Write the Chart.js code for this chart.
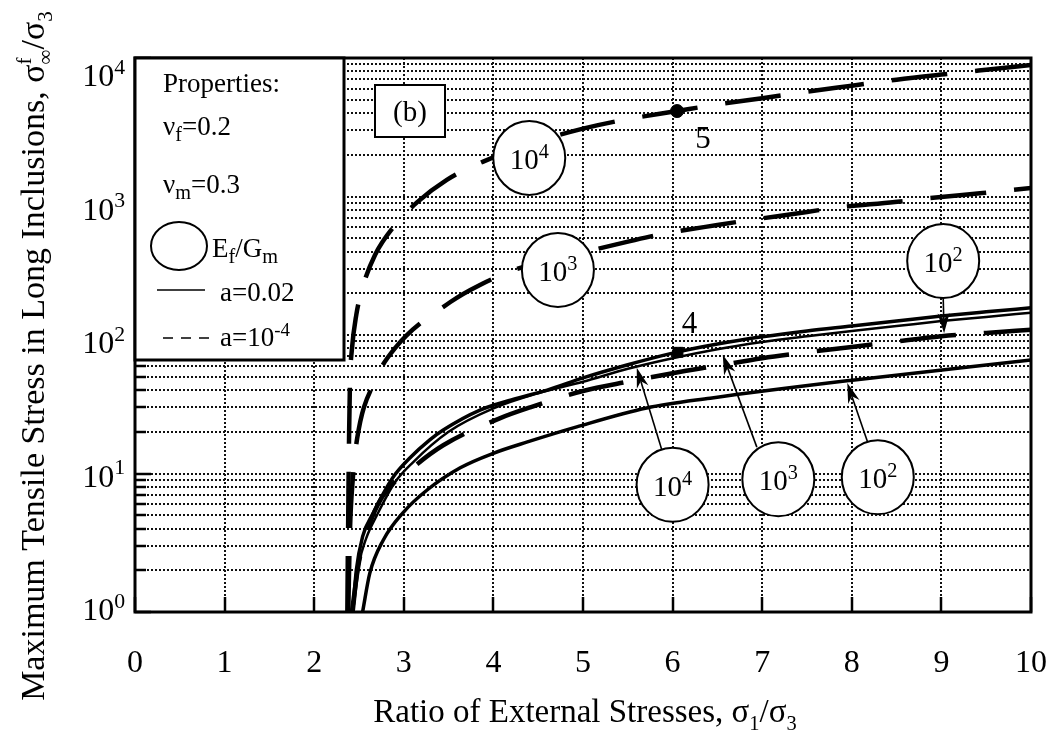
<!DOCTYPE html>
<html>
<head>
<meta charset="utf-8">
<script src="https://cdn.jsdelivr.net/npm/chart.js@4.4.1/dist/chart.umd.min.js"></script>
<style>
  html, body { margin: 0; padding: 0; background: #fff; }
  #wrap { width: 1061px; height: 739px; }
</style>
</head>
<body>
<div id="wrap"><canvas id="c" width="1061" height="739"></canvas></div>
<script>
// ---- axis ticks ----
const ratioTicks = [0, 1, 2, 3, 4, 5, 6, 7, 8, 9, 10];
const stressDecades = [1, 10, 100, 1000, 10000];
const decadeExponents = ['0', '1', '2', '3', '4'];
const stressGrid = [1, 2, 3, 4, 5, 6, 7, 8, 9, 10, 20, 30, 40, 50, 60, 70, 80, 90,
  100, 200, 300, 400, 500, 600, 700, 800, 900, 1000, 2000, 3000, 4000, 5000, 6000,
  7000, 8000, 9000, 10000];

// ---- a = 1e-4 (dashed), Ef/Gm = 1e4 ----
const ratioThin4 = [2.37, 2.375, 2.38, 2.385, 2.39, 2.40, 2.42, 2.47, 2.53, 2.68, 2.9, 3.15,
  3.48, 3.88, 4.5, 5.0, 5.45, 6.05, 6.5, 7.0, 7.5, 8.0, 8.5, 9.0, 9.5, 10];
const stressThin4 = [1, 2.5, 5, 11, 20, 47, 78, 140, 210, 380, 620, 910,
  1320, 1780, 2500, 3090, 3570, 4140, 4620, 5130, 5710, 6310, 6970, 7590, 8220, 8890];

// ---- a = 1e-4 (dashed), Ef/Gm = 1e3 ----
const ratioThin3 = [2.38, 2.40, 2.43, 2.48, 2.68, 2.9, 3.52, 3.85, 4.3, 5.11, 5.49, 5.83,
  6.5, 6.81, 7.5, 7.81, 8.48, 8.82, 9.46, 10];
const stressThin3 = [1, 4, 9, 18, 47, 80, 173, 230, 305, 411, 470, 527,
  623, 668, 773, 828, 912, 966, 1060, 1150];

// ---- a = 1e-4 (dashed), Ef/Gm = 1e2 ----
const ratioThin2 = [2.42, 2.5, 2.6, 2.76, 3.1, 3.44, 4.07, 4.41, 5.0, 5.5, 6.0, 6.5, 7.0,
  7.5, 8.0, 8.5, 9.0, 9.5, 10];
const stressThin2 = [1, 2.3, 4, 6.8, 11, 16, 25, 30, 39.4, 46, 53, 60, 68,
  75, 82, 90, 98, 103.5, 109];

// ---- a = 0.02 (solid), Ef/Gm = 1e4 ----
const ratioThick4 = [2.43, 2.47, 2.54, 2.66, 2.88, 3.07, 3.29, 3.44, 3.85, 4.2, 4.6, 5.0,
  5.5, 6.0, 6.5, 7.0, 7.5, 8.0, 8.5, 9.0, 9.5, 10];
const stressThick4 = [1, 2, 3.5, 5.2, 9.4, 13, 17.5, 20.6, 28.7, 34, 40, 49,
  61, 74, 86, 97, 107, 116, 126, 137, 147, 157];

// ---- a = 0.02 (solid), Ef/Gm = 1e3 ----
const ratioThick3 = [2.44, 2.5, 2.58, 2.7, 2.9, 3.1, 3.5, 4.0, 4.5, 5.0, 5.5, 6.0,
  6.5, 7.0, 7.5, 8.0, 8.5, 9.0, 9.5, 10];
const stressThick3 = [1, 2.2, 3.4, 5.0, 8.6, 12, 20, 29.5, 38, 46, 57, 68,
  79, 89, 98, 107, 116, 126, 135, 145];

// ---- a = 0.02 (solid), Ef/Gm = 1e2 ----
const ratioThick2 = [2.54, 2.62, 2.77, 2.99, 3.26, 3.63, 4.0, 4.38, 4.93, 5.71, 6.42, 7.98, 10];
const stressThick2 = [1, 1.9, 3.3, 5.2, 7.6, 11, 14, 16.9, 21.7, 29.7, 35, 47, 66];

// ---- numbered points ----
const point5 = { ratio: 6.05, stress: 4140 };
const point4 = { ratio: 6.06, stress: 75 };

const SERIF = '"Liberation Serif", "Times New Roman", serif';

function pts(xs, ys) { return xs.map((x, i) => ({ x, y: ys[i] })); }

function curve(xs, ys, width, dash) {
  return {
    data: pts(xs, ys),
    borderColor: '#000',
    borderWidth: width,
    borderDash: dash || [],
    borderCapStyle: 'butt',
    pointRadius: 0,
    fill: false,
    cubicInterpolationMode: 'monotone'
  };
}

// text with superscripts / subscripts; "stack" places a part under the previous one
function rich(ctx, parts, x, y, size, align) {
  const items = [];
  let w = 0, prevStart = 0, prevW = 0;
  for (const p of parts) {
    const s = (p.sup || p.sub) ? size * (p.scale || 0.62) : size;
    ctx.font = s + 'px ' + SERIF;
    const pw = ctx.measureText(p.t).width;
    let start = w;
    if (p.stack) { start = prevStart; w = prevStart + Math.max(prevW, pw); }
    else { w += pw; }
    items.push({ p, s, start });
    prevStart = start; prevW = pw;
  }
  const x0 = align === 'center' ? x - w / 2 : align === 'right' ? x - w : x;
  for (const it of items) {
    ctx.font = it.s + 'px ' + SERIF;
    const dy = it.p.sup ? -size * 0.38 : it.p.sub ? size * 0.24 : 0;
    ctx.fillText(it.p.t, x0 + it.start, y + dy);
  }
  return w;
}

function arrow(ctx, x1, y1, x2, y2) {
  const ang = Math.atan2(y2 - y1, x2 - x1);
  const len = 20, half = 6, notch = 14;
  const bx = x2 - Math.cos(ang) * len, by = y2 - Math.sin(ang) * len;
  const nx = x2 - Math.cos(ang) * notch, ny = y2 - Math.sin(ang) * notch;
  ctx.beginPath();
  ctx.moveTo(x1, y1);
  ctx.lineTo(nx, ny);
  ctx.lineWidth = 1.6;
  ctx.stroke();
  ctx.beginPath();
  ctx.moveTo(x2, y2);
  ctx.lineTo(bx - Math.sin(ang) * half, by + Math.cos(ang) * half);
  ctx.lineTo(nx, ny);
  ctx.lineTo(bx + Math.sin(ang) * half, by - Math.cos(ang) * half);
  ctx.closePath();
  ctx.fill();
}

function bubble(ctx, cx, cy, exp) {
  ctx.beginPath();
  ctx.ellipse(cx, cy, 36, 37, 0, 0, Math.PI * 2);
  ctx.fillStyle = '#fff';
  ctx.fill();
  ctx.lineWidth = 2;
  ctx.strokeStyle = '#000';
  ctx.stroke();
  ctx.fillStyle = '#000';
  rich(ctx, [{ t: '10' }, { t: exp, sup: true, scale: 0.7 }], cx, cy + 11, 29, 'center');
}

const notes = {
  id: 'notes',
  afterDraw(chart) {
    const { ctx, chartArea: a, scales } = chart;
    const px = v => scales.x.getPixelForValue(v);
    const py = v => scales.y.getPixelForValue(v);
    ctx.save();
    ctx.strokeStyle = '#000';
    ctx.fillStyle = '#000';
    ctx.textBaseline = 'alphabetic';
    ctx.setLineDash([]);

    // inward tick marks
    ctx.lineWidth = 2.5;
    for (const v of ratioTicks) {
      const X = Math.round(px(v));
      ctx.beginPath(); ctx.moveTo(X, a.bottom); ctx.lineTo(X, a.bottom - 15); ctx.stroke();
    }
    for (const v of stressGrid) {
      const Y = Math.round(py(v));
      const major = stressDecades.includes(v);
      ctx.beginPath(); ctx.moveTo(a.left, Y); ctx.lineTo(a.left + (major ? 16 : 11), Y); ctx.stroke();
    }

    // decade labels of the stress axis
    stressDecades.forEach((v, i) => {
      rich(ctx, [{ t: '10' }, { t: decadeExponents[i], sup: true, scale: 0.68 }],
        a.left - 10, py(v) + 8 + 5 * i, 32, 'right');
    });

    // plot frame
    ctx.lineWidth = 3;
    ctx.strokeRect(a.left, a.top, a.right - a.left, a.bottom - a.top);

    // legend box
    const L = a.left, T = a.top;
    ctx.fillStyle = '#fff';
    ctx.fillRect(L, T, 209, 302);
    ctx.lineWidth = 3;
    ctx.strokeRect(L, T, 209, 302);
    ctx.fillStyle = '#000';
    rich(ctx, [{ t: 'Properties:' }], L + 28, T + 34, 27);
    rich(ctx, [{ t: 'ν' }, { t: 'f', sub: true, scale: 0.75 }, { t: '=0.2' }], L + 28, T + 77, 27);
    rich(ctx, [{ t: 'ν' }, { t: 'm', sub: true, scale: 0.75 }, { t: '=0.3' }], L + 28, T + 135, 27);
    ctx.beginPath();
    ctx.ellipse(L + 44, T + 188, 28, 24, 0, 0, Math.PI * 2);
    ctx.lineWidth = 2;
    ctx.stroke();
    rich(ctx, [{ t: 'E' }, { t: 'f', sub: true, scale: 0.75 }, { t: '/G' }, { t: 'm', sub: true, scale: 0.75 }],
      L + 77, T + 199, 27);
    ctx.lineWidth = 1.5;
    ctx.beginPath(); ctx.moveTo(L + 22, T + 232); ctx.lineTo(L + 70, T + 232); ctx.stroke();
    rich(ctx, [{ t: 'a=0.02' }], L + 85, T + 243, 27);
    ctx.setLineDash([10, 8]);
    ctx.beginPath(); ctx.moveTo(L + 28, T + 280); ctx.lineTo(L + 78, T + 280); ctx.stroke();
    ctx.setLineDash([]);
    rich(ctx, [{ t: 'a=10' }, { t: '-4', sup: true, scale: 0.7 }], L + 85, T + 288, 27);

    // panel tag
    ctx.fillStyle = '#fff';
    ctx.fillRect(L + 240, T + 27, 70, 52);
    ctx.lineWidth = 2;
    ctx.strokeRect(L + 240, T + 27, 70, 52);
    ctx.fillStyle = '#000';
    rich(ctx, [{ t: '(b)' }], L + 275, T + 63, 29, 'center');

    // arrows from bubbles to curves
    ctx.lineWidth = 1.6;
    const arrows = [
      [5.88, 14.8, 5.60, 58],
      [6.94, 15.5, 6.56, 72],
      [8.18, 16.6, 7.95, 45],
      [9.02, 188, 9.03, 103]
    ];
    for (const [x1, y1, x2, y2] of arrows) arrow(ctx, px(x1), py(y1), px(x2), py(y2));

    // Ef/Gm bubbles
    const bubbles = [
      [4.4, 1900, '4'], [4.72, 295, '3'], [9.02, 342, '2'],
      [6.0, 8.3, '4'], [7.18, 9.1, '3'], [8.29, 9.4, '2']
    ];
    for (const [bx, by, e] of bubbles) bubble(ctx, px(bx), py(by), e);

    // point numbers
    ctx.fillStyle = '#000';
    rich(ctx, [{ t: '5' }], px(6.34), py(2690) + 11, 31, 'center');
    rich(ctx, [{ t: '4' }], px(6.19), py(124) + 11, 31, 'center');

    // axis titles
    rich(ctx, [{ t: 'Ratio of External Stresses, σ' }, { t: '1', sub: true }, { t: '/σ' }, { t: '3', sub: true }],
      (a.left + a.right) / 2 + 2, 722, 33, 'center');
    ctx.save();
    ctx.translate(33, 356);
    ctx.rotate(-Math.PI / 2);
    rich(ctx, [{ t: 'Maximum Tensile Stress in Long Inclusions, σ' },
      { t: 'f', sup: true }, { t: '∞', sub: true, stack: true },
      { t: '/σ' }, { t: '3', sub: true }], 0, 11, 34, 'center');
    ctx.restore();
    ctx.restore();
  }
};

const gridStyle = { color: '#111', lineWidth: 2, drawTicks: false };

new Chart(document.getElementById('c'), {
  type: 'line',
  data: {
    datasets: [
      curve(ratioThin4, stressThin4, 4.5, [56, 28]),
      curve(ratioThin3, stressThin3, 4.5, [56, 28]),
      curve(ratioThin2, stressThin2, 4.5, [56, 28]),
      curve(ratioThick4, stressThick4, 3.5),
      curve(ratioThick3, stressThick3, 2.5),
      curve(ratioThick2, stressThick2, 3.5),
      {
        type: 'scatter',
        data: [{ x: point5.ratio, y: point5.stress }],
        pointStyle: 'circle', pointRadius: 6.5, backgroundColor: '#000', borderColor: '#000'
      },
      {
        type: 'scatter',
        data: [{ x: point4.ratio, y: point4.stress }],
        pointStyle: 'rect', pointRadius: 7, backgroundColor: '#000', borderColor: '#000'
      }
    ]
  },
  options: {
    responsive: false,
    animation: false,
    devicePixelRatio: 1,
    layout: { padding: { top: 58, right: 30, left: 0, bottom: 0 } },
    plugins: { legend: { display: false }, tooltip: { enabled: false } },
    scales: {
      x: {
        type: 'linear', min: 0, max: 10,
        afterFit(s) { s.height = 127; s.paddingLeft = 0; s.paddingRight = 0; },
        afterBuildTicks(s) { s.ticks = ratioTicks.map(v => ({ value: v })); },
        ticks: { autoSkip: false, maxRotation: 0, font: { family: SERIF, size: 32 }, color: '#000', padding: 32,
          callback: v => String(v) },
        grid: gridStyle,
        border: { display: false, dash: [2, 2] }
      },
      y: {
        type: 'logarithmic', min: 1, max: 10000,
        afterFit(s) { s.width = 135; s.paddingTop = 0; s.paddingBottom = 0; },
        afterBuildTicks(s) { s.ticks = stressGrid.map(v => ({ value: v })); },
        ticks: { display: false, autoSkip: false },
        grid: gridStyle,
        border: { display: false, dash: [2, 2] }
      }
    }
  },
  plugins: [notes]
});
</script>
</body>
</html>
